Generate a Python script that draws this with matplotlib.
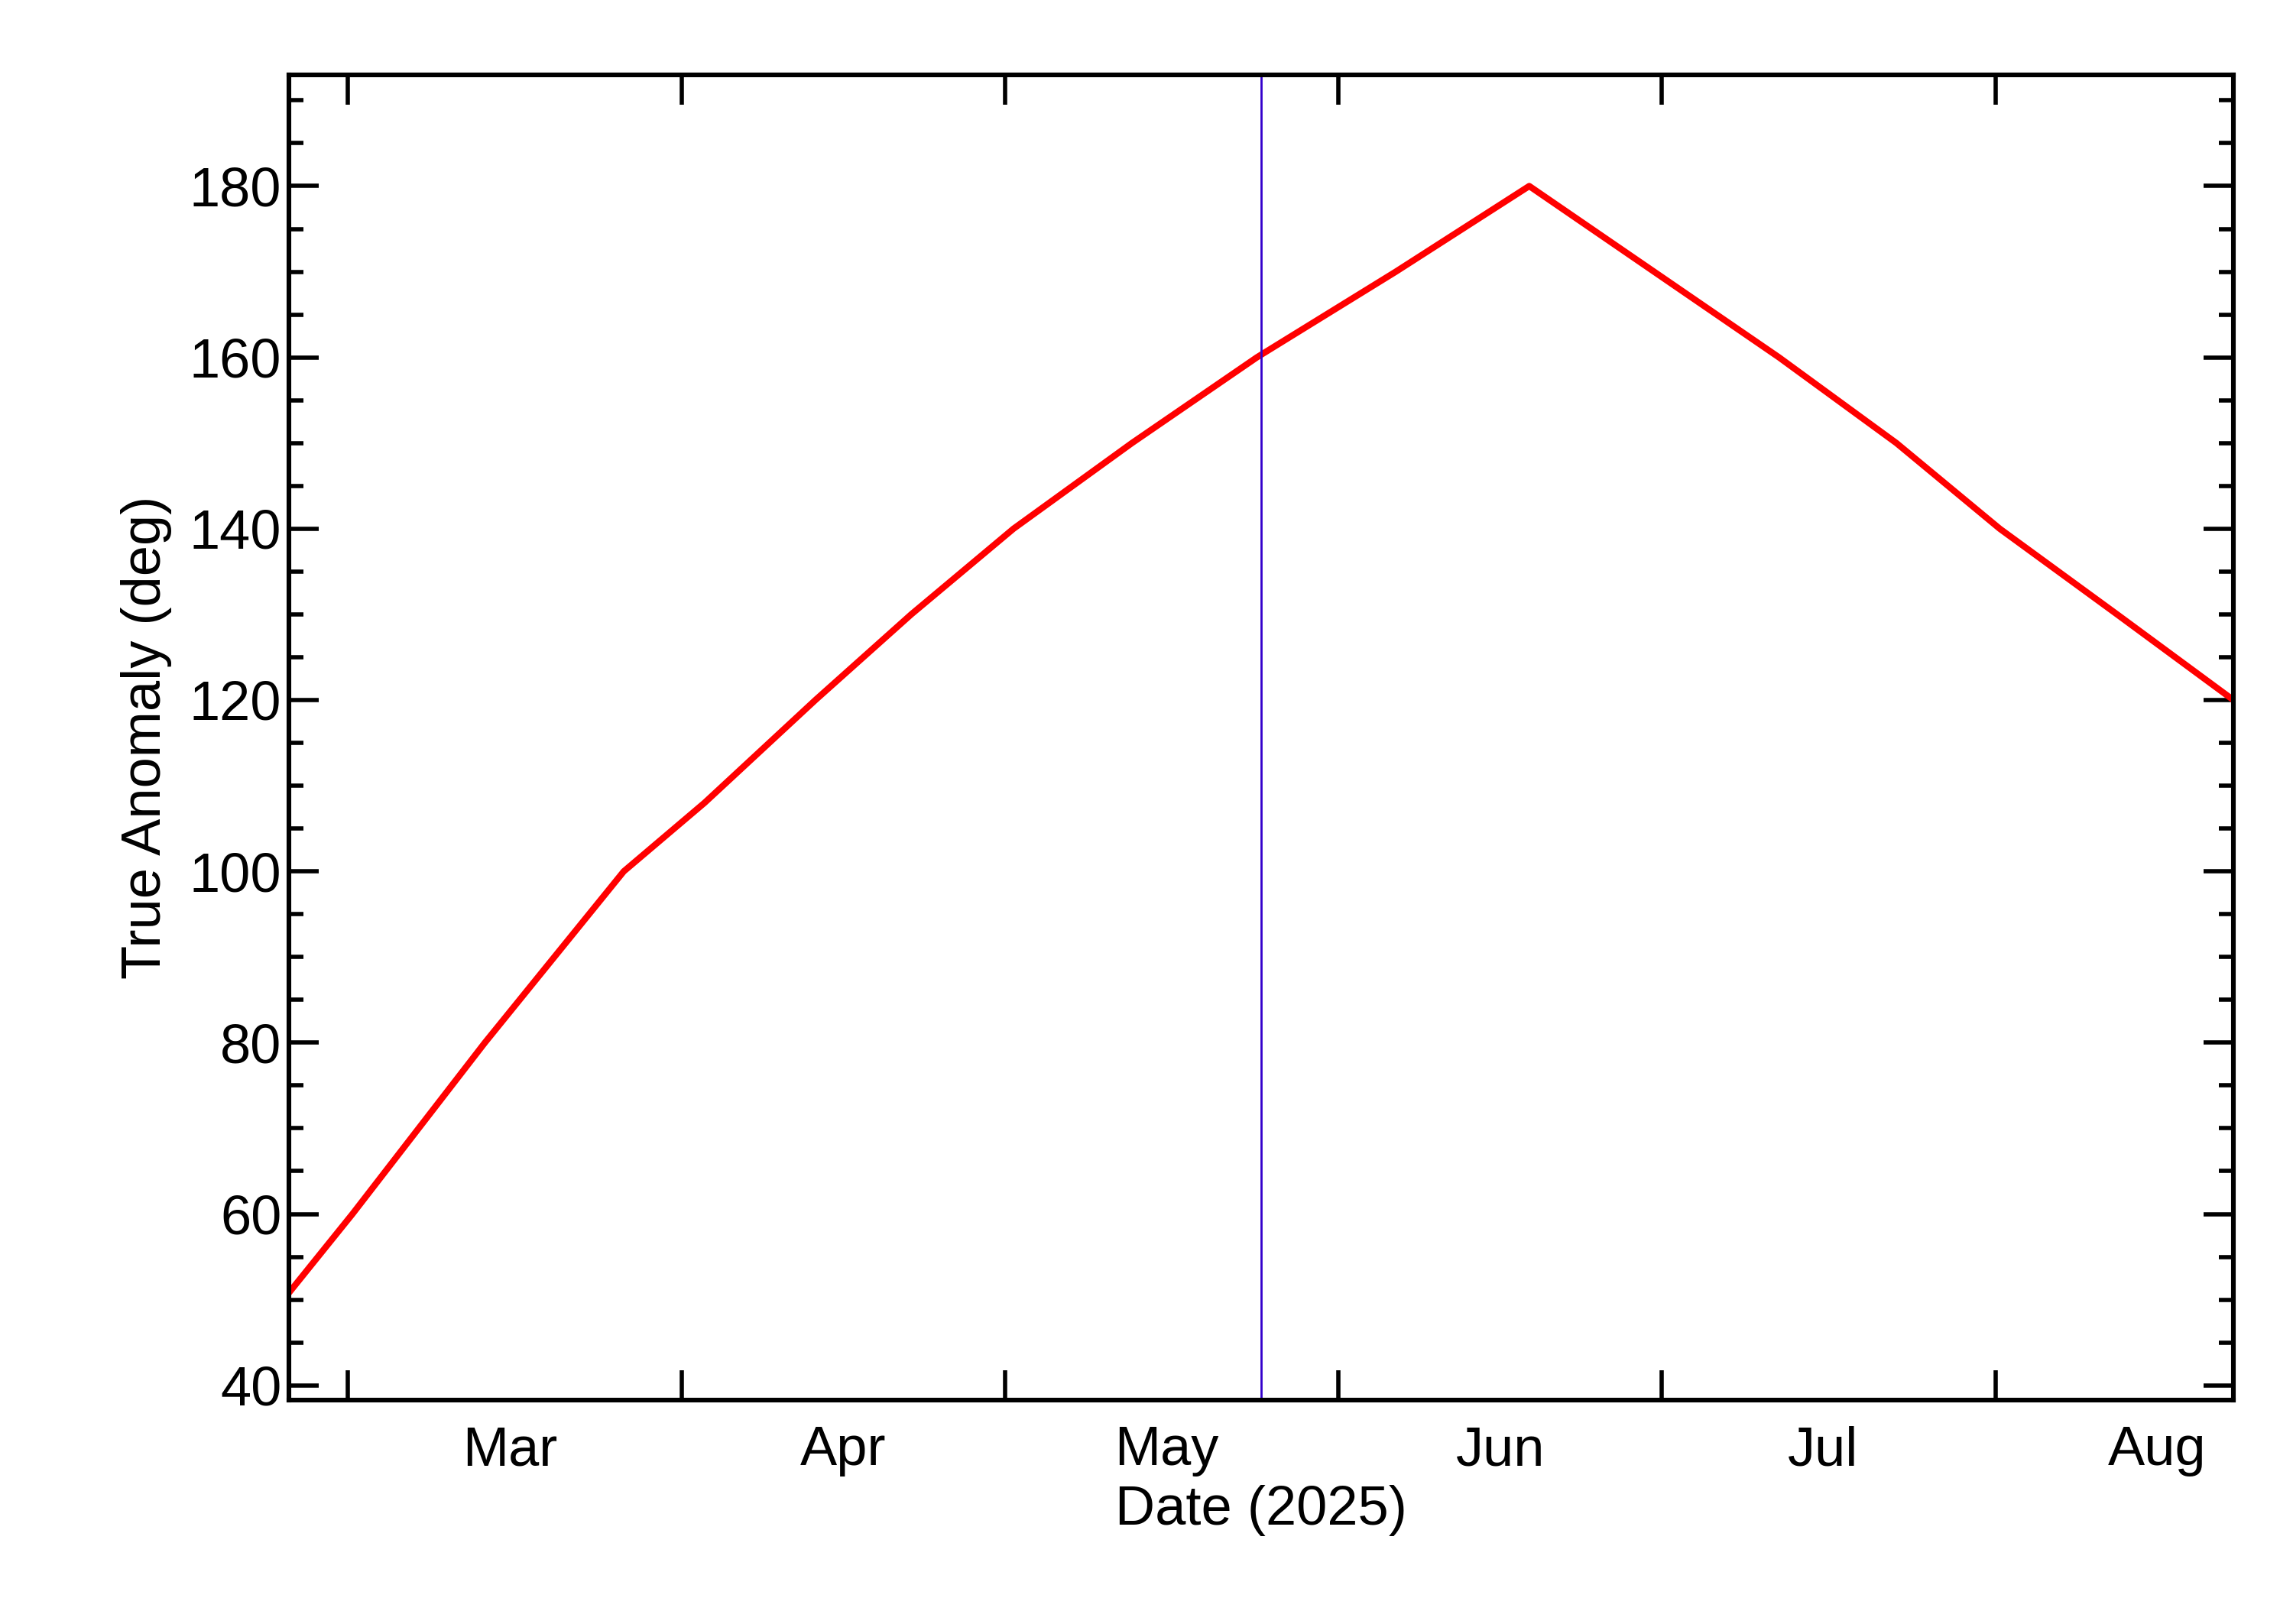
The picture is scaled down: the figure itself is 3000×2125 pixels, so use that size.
import matplotlib
matplotlib.use("Agg")
import matplotlib.pyplot as plt
import numpy as np
from datetime import datetime, timedelta

start = datetime(2025, 2, 23, 12)
day_offsets = [0, 5.9, 18.2, 31.1, 38.6, 48.9, 57.8, 67.3, 78.3, 89.9, 102.8, 115.2, 126.8, 138.4, 149.3, 158.9, 169.8, 180.6]
anomaly = [50.8, 60.0, 80.0, 100.0, 108.0, 120.0, 130.0, 140.0, 150.0, 160.0, 170.0, 180.0, 170.0, 160.0, 150.0, 140.0, 130.0, 120.0]
current_offset = 90.3
month_labels = ["Mar", "Apr", "May", "Jun", "Jul", "Aug"]

dates = [start + timedelta(days=d) for d in day_offsets]

plt.rcParams["font.family"] = "Liberation Sans"
fig = plt.figure(figsize=(15, 10.625), dpi=200)
ax = fig.add_axes([0.126, 0.138, 0.848, 0.816])
ax.plot(dates, anomaly, color="red", lw=3)
ax.axvline(start + timedelta(days=current_offset), color="#3300cc", lw=1)

ax.set_xlim(start, start + timedelta(days=180.6))
ax.set_ylim(38.3, 193)

ticks = [datetime(2025, m, 1) for m in range(3, 9)]
ax.set_xticks(ticks)
ax.set_xticklabels([])
ax.set_xticks([datetime(2025, m, 16) for m in range(3, 9)], minor=True)
ax.set_xticklabels(month_labels, minor=True)
ax.tick_params(axis="x", which="minor", length=0, labelsize=26, pad=12)
ax.tick_params(axis="x", which="major", direction="in", length=14, width=2, top=True)

ax.set_yticks(np.arange(40, 181, 20))
ax.set_yticks(np.arange(40, 191, 5), minor=True)
ax.tick_params(axis="y", which="major", direction="in", length=14, width=2, right=True, labelsize=26)
ax.tick_params(axis="y", which="minor", direction="in", length=7, width=2, right=True)

for s in ax.spines.values():
    s.set_linewidth(2.2)

ax.set_xlabel("Date (2025)", fontsize=26, labelpad=4)
ax.set_ylabel("True Anomaly (deg)", fontsize=26, labelpad=8)
fig.savefig("out.png")
